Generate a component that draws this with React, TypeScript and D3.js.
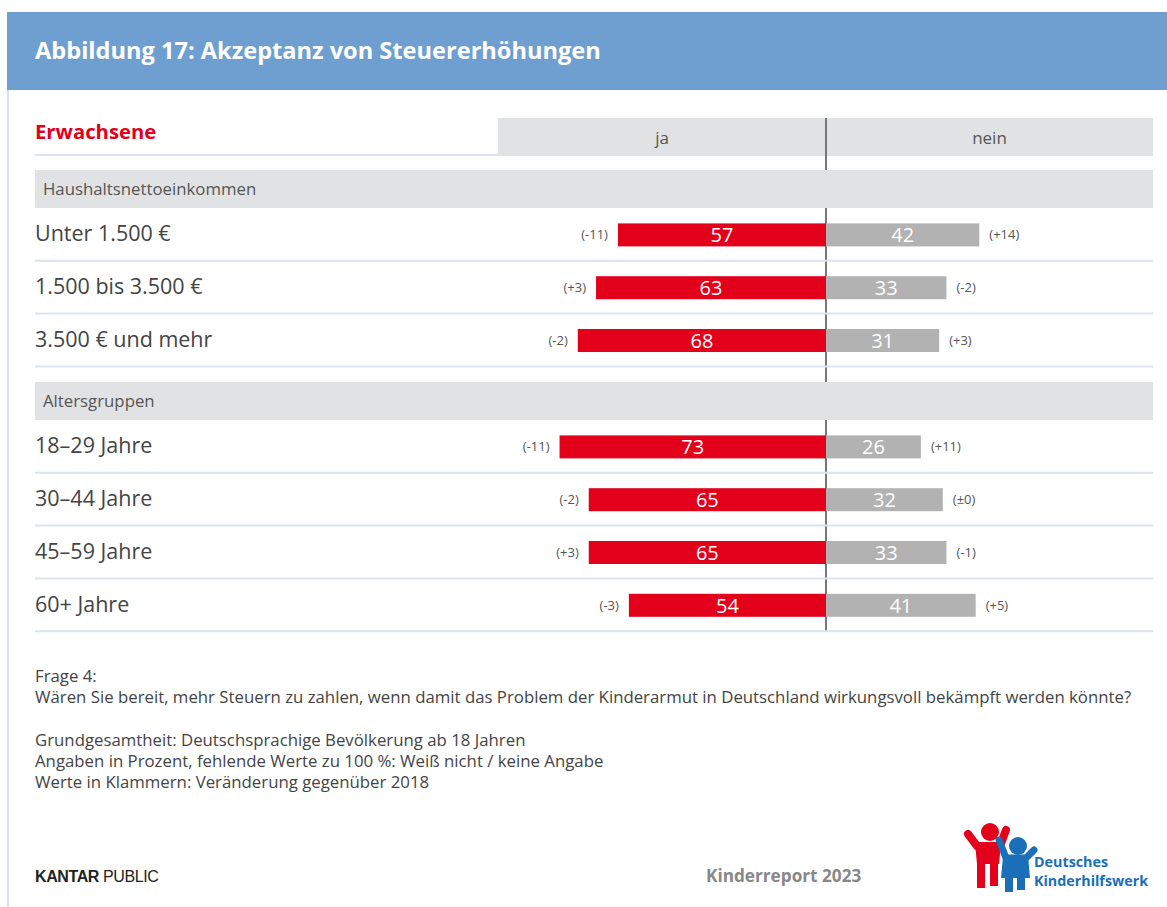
import React from "react";
import * as d3 from "d3";

const groupTitles = ["Haushaltsnettoeinkommen", "Altersgruppen"];
const categories = [
  ["Unter 1.500 €", "1.500 bis 3.500 €", "3.500 € und mehr"],
  ["18–29 Jahre", "30–44 Jahre", "45–59 Jahre", "60+ Jahre"],
];
const jaValues = [
  [57, 63, 68],
  [73, 65, 65, 54],
];
const neinValues = [
  [42, 33, 31],
  [26, 32, 33, 41],
];
const jaChange = [
  ["(-11)", "(+3)", "(-2)"],
  ["(-11)", "(-2)", "(+3)", "(-3)"],
];
const neinChange = [
  ["(+14)", "(-2)", "(+3)"],
  ["(+11)", "(±0)", "(-1)", "(+5)"],
];
const footLines = [
  "Frage 4:",
  "Wären Sie bereit, mehr Steuern zu zahlen, wenn damit das Problem der Kinderarmut in Deutschland wirkungsvoll bekämpft werden könnte?",
  "",
  "Grundgesamtheit: Deutschsprachige Bevölkerung ab 18 Jahren",
  "Angaben in Prozent, fehlende Werte zu 100 %: Weiß nicht / keine Angabe",
  "Werte in Klammern: Veränderung gegenüber 2018",
];

const FONT = "'Open Sans', sans-serif";
const RED = "#e2001a";
const GREY = "#b2b2b3";
const BAND = "#e1e2e4";
const SEP = "#dbe3f1";
const TXT = "#444";

export default function App() {
  const W = 1167, H = 907;
  const cx = 826;
  const left = 35, right = 1153;
  const x = d3.scaleLinear().domain([0, 100]).range([0, 365]);
  const rowH = 52.8;
  const barH = 23;
  const bandH = 38;
  const groupTop = [170, 382];

  const elems: React.ReactNode[] = [];
  groupTop.forEach((gt, gi) => {
    const rowsTop = gt + bandH;
    categories[gi].forEach((cat, i) => {
      const top = rowsTop + i * rowH;
      const cy = top + rowH / 2 + 0.5;
      const ja = jaValues[gi][i];
      const ne = neinValues[gi][i];
      const wj = x(ja), wn = x(ne);
      elems.push(
        <g key={`r${gi}-${i}`}>
          <line x1={left} x2={right} y1={top + rowH} y2={top + rowH} stroke={SEP} strokeWidth={2} />
          <text x={left} y={cy - 1} dy="0.35em" fontSize={21.5} fill={TXT} fontFamily={FONT}>{cat}</text>
          <rect x={cx - wj} y={cy - barH / 2} width={wj} height={barH} fill={RED} />
          <rect x={cx} y={cy - barH / 2} width={wn} height={barH} fill={GREY} />
          <text x={cx - wj / 2} y={cy} dy="0.36em" textAnchor="middle" fontSize={20} fill="#fff" fontFamily={FONT}>{ja}</text>
          <text x={cx + wn / 2} y={cy} dy="0.36em" textAnchor="middle" fontSize={20} fill="#fff" fontFamily={FONT}>{ne}</text>
          <text x={cx - wj - 10} y={cy} dy="0.35em" textAnchor="end" fontSize={13} fill="#555" fontFamily={FONT}>{jaChange[gi][i]}</text>
          <text x={cx + wn + 10} y={cy} dy="0.35em" textAnchor="start" fontSize={13} fill="#555" fontFamily={FONT}>{neinChange[gi][i]}</text>
        </g>
      );
    });
  });

  const lastBottom = groupTop[1] + bandH + categories[1].length * rowH;

  return (
    <svg width={W} height={H} style={{ position: "absolute", left: 0, top: 0, background: "#fff" }}>
      <rect x={7} y={12} width={W - 7} height={78} fill="#6e9fd0" />
      <text x={35} y={51} dy="0.35em" fontSize={23.6} fontWeight={700} fill="#fff" fontFamily={FONT}>
        Abbildung 17: Akzeptanz von Steuererhöhungen
      </text>
      <line x1={8} x2={8} y1={90} y2={H} stroke="#d6e0ef" strokeWidth={2} />

      <text x={35} y={132} dy="0.35em" fontSize={20.3} fontWeight={700} fill={RED} fontFamily={FONT}>Erwachsene</text>
      <line x1={left} x2={right} y1={155} y2={155} stroke={SEP} strokeWidth={2} />
      <rect x={498} y={118} width={right - 498} height={37} fill={BAND} />
      <text x={(498 + cx) / 2} y={138} dy="0.35em" textAnchor="middle" fontSize={17} fill="#555" fontFamily={FONT}>ja</text>
      <text x={(cx + right) / 2} y={138} dy="0.35em" textAnchor="middle" fontSize={17} fill="#555" fontFamily={FONT}>nein</text>

      <line x1={cx} x2={cx} y1={118} y2={lastBottom} stroke="#777" strokeWidth={2} />

      {groupTop.map((gt, gi) => (
        <g key={`g${gi}`}>
          <rect x={left} y={gt} width={right - left} height={bandH} fill={BAND} />
          <text x={43} y={gt + bandH / 2} dy="0.35em" fontSize={16.8} fill="#555" fontFamily={FONT}>{groupTitles[gi]}</text>
        </g>
      ))}

      {elems}

      {footLines.map((l, i) => (
        <text key={`f${i}`} x={35} y={676 + i * 21.3} dy="0.35em" fontSize={16.8} fill={TXT} fontFamily={FONT}>{l}</text>
      ))}

      <text x={35} y={876} dy="0.35em" fontSize={16} fontWeight={700} fill="#222" fontFamily="'Liberation Sans', sans-serif" letterSpacing={-0.4}>
        <tspan>KANTAR</tspan><tspan fontWeight={400}> PUBLIC</tspan>
      </text>
      <text x={706} y={876} dy="0.35em" fontSize={17.2} fontWeight={700} fill="#888" fontFamily={FONT}>Kinderreport 2023</text>

      <g>
        <circle cx={990} cy={832} r={9} fill={RED} />
        <path d="M968,834 L977,846 L1000,846 L1006,830" fill="none" stroke={RED} strokeWidth={8} strokeLinecap="round" strokeLinejoin="round" />
        <path d="M975,843 L1001,843 L999,864 L977,864 Z" fill={RED} />
        <rect x={977} y={862} width={8} height={26} fill={RED} />
        <rect x={990} y={862} width={8} height={24} fill={RED} />
        <circle cx={1018} cy={846} r={9} fill="#1a6fb8" />
        <path d="M999,840 L1006,858 L1026,858 L1034,850" fill="none" stroke="#1a6fb8" strokeWidth={7} strokeLinecap="round" strokeLinejoin="round" />
        <path d="M1003,856 L1028,856 L1030,878 L1001,878 Z" fill="#1a6fb8" />
        <rect x={1005} y={876} width={8} height={16} fill="#1a6fb8" />
        <rect x={1017} y={876} width={8} height={14} fill="#1a6fb8" />
        <text x={1034} y={862} dy="0.35em" fontSize={14.3} fontWeight={700} fill="#1a6fb8" fontFamily={FONT}>Deutsches</text>
        <text x={1034} y={881} dy="0.35em" fontSize={14.3} fontWeight={700} fill="#1a6fb8" fontFamily={FONT}>Kinderhilfswerk</text>
      </g>
    </svg>
  );
}
